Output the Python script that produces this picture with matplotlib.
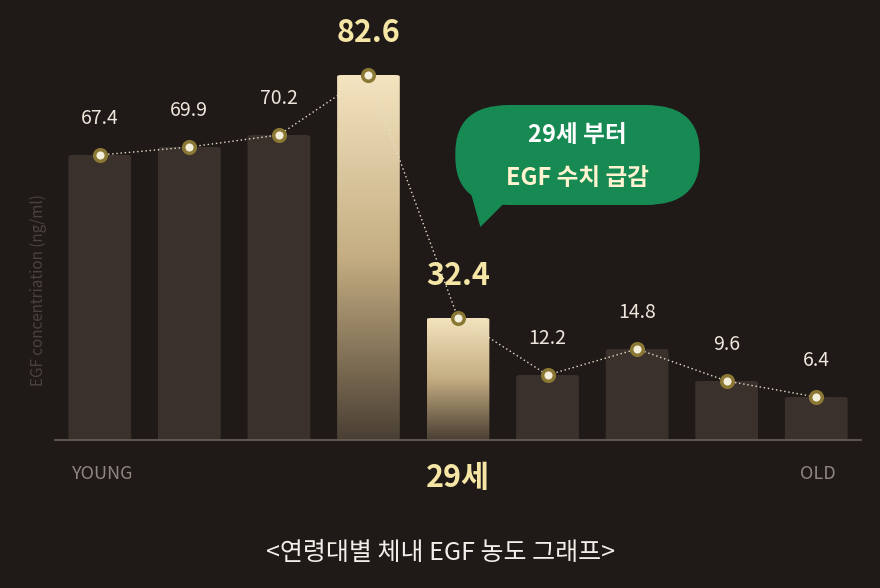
import matplotlib.pyplot as plt
import numpy as np
from matplotlib.patches import FancyBboxPatch, Polygon
from matplotlib.colors import LinearSegmentedColormap

plt.rcParams['font.family'] = ['Noto Sans CJK KR', 'DejaVu Sans']

# values shown on the chart and the drawn bar heights (visual units, as in the picture)
labels = ["67.4", "69.9", "70.2", "82.6", "32.4", "12.2", "14.8", "9.6", "6.4"]
heights = [285, 293, 305, 365, 122, 65, 91, 59, 43]
highlight = [False, False, False, True, True, False, False, False, False]

BG = "#1f1a17"
BAR = "#3a312c"
GOLD_TXT = "#f5e6a6"

fig = plt.figure(figsize=(8.8, 5.88), dpi=100, facecolor=BG)
ax = fig.add_axes([55 / 880, 1 - 440 / 588, 806 / 880, 400 / 588])
ax.set_facecolor(BG)
ax.set_xlim(-0.5, 8.5)
ax.set_ylim(0, 400)
ax.axis("off")

w = 0.70
grad = np.linspace(0, 1, 256).reshape(-1, 1)
cmap = LinearSegmentedColormap.from_list("g", ["#4a3f33", "#c4ad82", "#f4e4bf"])
for i, (h, hl) in enumerate(zip(heights, highlight)):
    patch = FancyBboxPatch((i - w / 2, 0), w, h,
                           boxstyle="round,pad=0,rounding_size=0.05",
                           mutation_aspect=30, linewidth=0,
                           facecolor=BAR if not hl else "none")
    ax.add_patch(patch)
    if hl:
        im = ax.imshow(grad, extent=(i - w / 2, i + w / 2, 0, h), origin="lower",
                       cmap=cmap, aspect="auto", zorder=1)
        im.set_clip_path(patch)

x = np.arange(len(heights))
ax.plot(x, heights, ls=(0, (1, 2)), color="#e8e0cc", lw=1, zorder=3)
ax.scatter(x, heights, s=70, color="#f4eedc", edgecolor="#8a7834", lw=2.5, zorder=4)

for i, (h, lab, hl) in enumerate(zip(heights, labels, highlight)):
    if hl:
        ax.text(i, h + 26, lab, ha="center", va="bottom", color=GOLD_TXT,
                fontsize=22, fontweight="bold")
    else:
        ax.text(i, h + 26, lab, ha="center", va="bottom", color="#ece6dc", fontsize=14)

ax.plot([-0.5, 8.5], [0, 0], color="#6b615a", lw=1.2, clip_on=False)

# speech bubble
bub = FancyBboxPatch((3.97, 235), 2.73, 100, boxstyle="round,pad=0,rounding_size=0.6",
                     mutation_aspect=80, facecolor="#178a54", edgecolor="none", zorder=5)
ax.add_patch(bub)
ax.add_patch(Polygon([[4.15, 245], [4.55, 240], [4.25, 213]], closed=True,
                     facecolor="#178a54", edgecolor="none", zorder=5))
ax.text(5.33, 305, "29세 부터", ha="center", va="center", color="#ffffff",
        fontsize=17, fontweight="bold", zorder=6)
ax.text(5.33, 262, "EGF 수치 급감", ha="center", va="center", color="#fff4cf",
        fontsize=17, fontweight="bold", zorder=6)

fig.text(38 / 880, 1 - 290 / 588, "EGF concentriation (ng/ml)", rotation=90,
         ha="center", va="center", color="#4a423c", fontsize=11)
fig.text(103 / 880, 1 - 474 / 588, "YOUNG", ha="center", va="center",
         color="#8e8780", fontsize=13)
fig.text(818 / 880, 1 - 474 / 588, "OLD", ha="center", va="center",
         color="#8e8780", fontsize=13)
fig.text(458 / 880, 1 - 478 / 588, "29세", ha="center", va="center",
         color=GOLD_TXT, fontsize=22, fontweight="bold")
fig.text(440 / 880, 1 - 553 / 588, "<연령대별 체내 EGF 농도 그래프>", ha="center",
         va="center", color="#f2eee8", fontsize=18)

fig.savefig("out.png", dpi=100, facecolor=BG)
